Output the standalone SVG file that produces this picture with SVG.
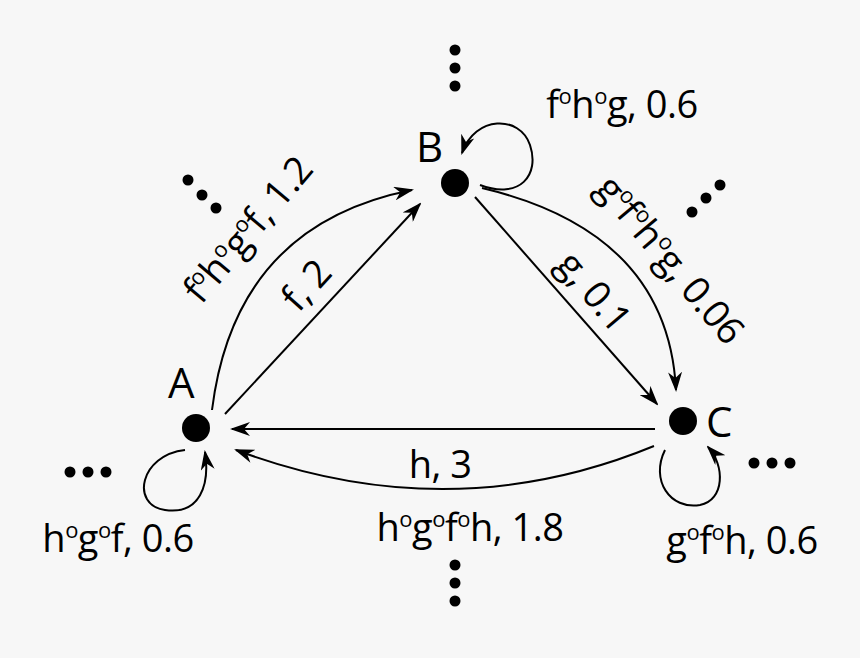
<svg xmlns="http://www.w3.org/2000/svg" width="860" height="658" viewBox="0 0 860 658">
<style>
.t{font-family:"Open Sans",sans-serif;font-size:38px;fill:#000;letter-spacing:-0.5px}
.n{font-family:"Open Sans",sans-serif;font-size:42px;fill:#000}
.s{font-size:22px}
.e{fill:none;stroke:#000;stroke-width:2;marker-end:url(#ar)}
.d{fill:#000}
</style>
<defs><marker id="ar" viewBox="0 0 20 14" refX="18" refY="7" markerWidth="20" markerHeight="14" markerUnits="userSpaceOnUse" orient="auto"><path d="M0,0 L20,7 L0,14 L6,7 Z" fill="#000"/></marker></defs>
<rect width="860" height="658" fill="#f7f7f7"/>
<g id="connectors">
<path class="e" d="M225,414 L420,204"/>
<path class="e" d="M212,410 Q235,225 412,190"/>
<path class="e" d="M475,197 L657,404"/>
<path class="e" d="M482,188 Q668,232 676,390"/>
<path class="e" d="M655,429 L232,429"/>
<path class="e" d="M654,446 Q450,530 236,450"/>
<path class="e" d="M480,185 C520,200 540,175 530,145 C520,115 475,115 462,153"/>
<path class="e" d="M185,450 C140,455 130,505 165,510 C200,515 210,485 205,452"/>
<path class="e" d="M665,450 C650,480 670,510 700,505 C725,500 725,465 708,447"/>
</g>
<g id="A"><circle cx="196" cy="428" r="14"/><text class="n" x="168" y="398">A</text></g>
<g id="B"><circle cx="455" cy="183" r="14"/><text class="n" x="416" y="162">B</text></g>
<g id="C"><circle cx="683" cy="421" r="14"/><text class="n" x="706" y="437">C</text></g>
<g id="labels" class="t">
<text transform="translate(258,238) rotate(-50)" text-anchor="middle">f<tspan class="s" dy="-14">o</tspan><tspan dy="14">h</tspan><tspan class="s" dy="-14">o</tspan><tspan dy="14">g</tspan><tspan class="s" dy="-14">o</tspan><tspan dy="14">f, 1.2</tspan></text>
<text transform="translate(316,294) rotate(-48)" text-anchor="middle">f, 2</text>
<text transform="translate(660,268) rotate(50)" text-anchor="middle">g<tspan class="s" dy="-14">o</tspan><tspan dy="14">f</tspan><tspan class="s" dy="-14">o</tspan><tspan dy="14">h</tspan><tspan class="s" dy="-14">o</tspan><tspan dy="14">g, 0.06</tspan></text>
<text transform="translate(584,300) rotate(50)" text-anchor="middle">g, 0.1</text>
<text x="440" y="478" text-anchor="middle">h, 3</text>
<text x="470" y="541" text-anchor="middle">h<tspan class="s" dy="-14">o</tspan><tspan dy="14">g</tspan><tspan class="s" dy="-14">o</tspan><tspan dy="14">f</tspan><tspan class="s" dy="-14">o</tspan><tspan dy="14">h, 1.8</tspan></text>
<text x="622" y="118" text-anchor="middle">f<tspan class="s" dy="-14">o</tspan><tspan dy="14">h</tspan><tspan class="s" dy="-14">o</tspan><tspan dy="14">g, 0.6</tspan></text>
<text x="118" y="552" text-anchor="middle">h<tspan class="s" dy="-14">o</tspan><tspan dy="14">g</tspan><tspan class="s" dy="-14">o</tspan><tspan dy="14">f, 0.6</tspan></text>
<text x="742" y="554" text-anchor="middle">g<tspan class="s" dy="-14">o</tspan><tspan dy="14">f</tspan><tspan class="s" dy="-14">o</tspan><tspan dy="14">h, 0.6</tspan></text>
</g>
<g id="dots" class="d">
<circle cx="455" cy="50" r="5.5"/><circle cx="455" cy="68" r="5.5"/><circle cx="455" cy="86" r="5.5"/>
<circle cx="455" cy="565" r="5.5"/><circle cx="455" cy="583" r="5.5"/><circle cx="455" cy="601" r="5.5"/>
<circle cx="188" cy="180" r="5.5"/><circle cx="202" cy="195" r="5.5"/><circle cx="216" cy="208" r="5.5"/>
<circle cx="692" cy="212" r="5.5"/><circle cx="706" cy="198" r="5.5"/><circle cx="720" cy="185" r="5.5"/>
<circle cx="70" cy="472" r="5.5"/><circle cx="88" cy="472" r="5.5"/><circle cx="106" cy="472" r="5.5"/>
<circle cx="754" cy="463" r="5.5"/><circle cx="772" cy="463" r="5.5"/><circle cx="790" cy="463" r="5.5"/>
</g>
</svg>
